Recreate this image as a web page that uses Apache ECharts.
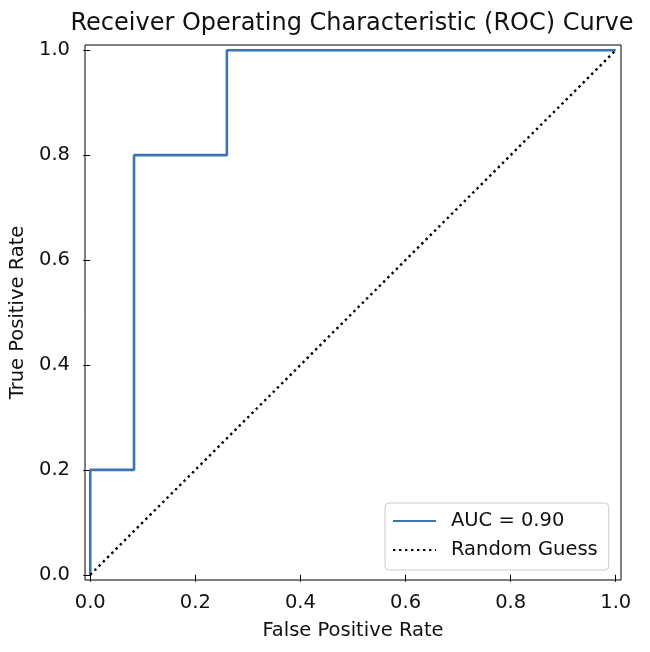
<!DOCTYPE html>
<html>
<head>
<meta charset="utf-8">
<script src="https://cdn.jsdelivr.net/npm/echarts@6/dist/echarts.min.js"></script>
<style>html,body{margin:0;padding:0;background:#fff}#c{width:650px;height:652px}</style>
</head>
<body>
<div id="c"></div>
<script>
const fpr = [0, 0, 0.0833, 0.0833, 0.26, 0.26, 1];
const tpr = [0, 0.2, 0.2, 0.8, 0.8, 1, 1];
const diagX = [0, 1];
const diagY = [0, 1];
const tickValues = [0, 0.2, 0.4, 0.6, 0.8, 1.0];
const aucLabel = 'AUC = 0.90';
const randomLabel = 'Random Guess';

const font = 'DejaVu Sans';
const fs = 19.5;
const chart = echarts.init(document.getElementById('c'));
chart.setOption({
  animation: false,
  backgroundColor: '#fff',
  title: {
    text: 'Receiver Operating Characteristic (ROC) Curve',
    left: 347, textAlign: 'center', top: 7,
    textStyle: {fontFamily: font, fontSize: 24, fontWeight: 'normal', color: '#111'}
  },
  grid: {left: 84, right: 29, top: 45, bottom: 72, show: true, borderColor: '#000', borderWidth: 1},
  xAxis: {
    type: 'value', min: -0.01, max: 1.01,
    name: 'False Positive Rate', nameLocation: 'middle', nameGap: 41,
    nameTextStyle: {fontFamily: font, fontSize: fs, color: '#111'},
    axisLine: {show: false},
    splitLine: {show: false},
    axisTick: {show: true, length: 7, lineStyle: {color: '#000'}, customValues: tickValues},
    axisLabel: {fontFamily: font, fontSize: fs, color: '#111', margin: 13, customValues: tickValues,
      formatter: v => v.toFixed(1)}
  },
  yAxis: {
    type: 'value', min: -0.01, max: 1.01,
    name: 'True Positive Rate', nameLocation: 'middle', nameGap: 57,
    nameTextStyle: {fontFamily: font, fontSize: fs, color: '#111'},
    axisLine: {show: false},
    splitLine: {show: false},
    axisTick: {show: true, length: 7, lineStyle: {color: '#000'}, customValues: tickValues},
    axisLabel: {fontFamily: font, fontSize: fs, color: '#111', margin: 15, customValues: tickValues,
      formatter: v => v.toFixed(1)}
  },
  legend: {
    orient: 'vertical', left: 385, top: 503,
    padding: [8, 11, 10, 7], itemGap: 9,
    itemWidth: 43, itemHeight: 20,
    borderColor: '#ccc', borderWidth: 1, borderRadius: 4,
    itemStyle: {opacity: 0},
    textStyle: {fontFamily: font, fontSize: fs, color: '#111', padding: [0, 0, 0, 10]},
    data: [aucLabel, randomLabel]
  },
  series: [
    {
      name: aucLabel, type: 'line', symbol: 'none',
      data: fpr.map((x, i) => [x, tpr[i]]),
      lineStyle: {color: '#3b75af', width: 2.6},
      itemStyle: {color: '#3b75af'}
    },
    {
      name: randomLabel, type: 'line', symbol: 'none',
      data: diagX.map((x, i) => [x, diagY[i]]),
      lineStyle: {color: '#000', width: 2.4, type: [2.4, 3.6], cap: 'butt'},
      itemStyle: {color: '#000'}
    }
  ]
});
</script>
</body>
</html>
